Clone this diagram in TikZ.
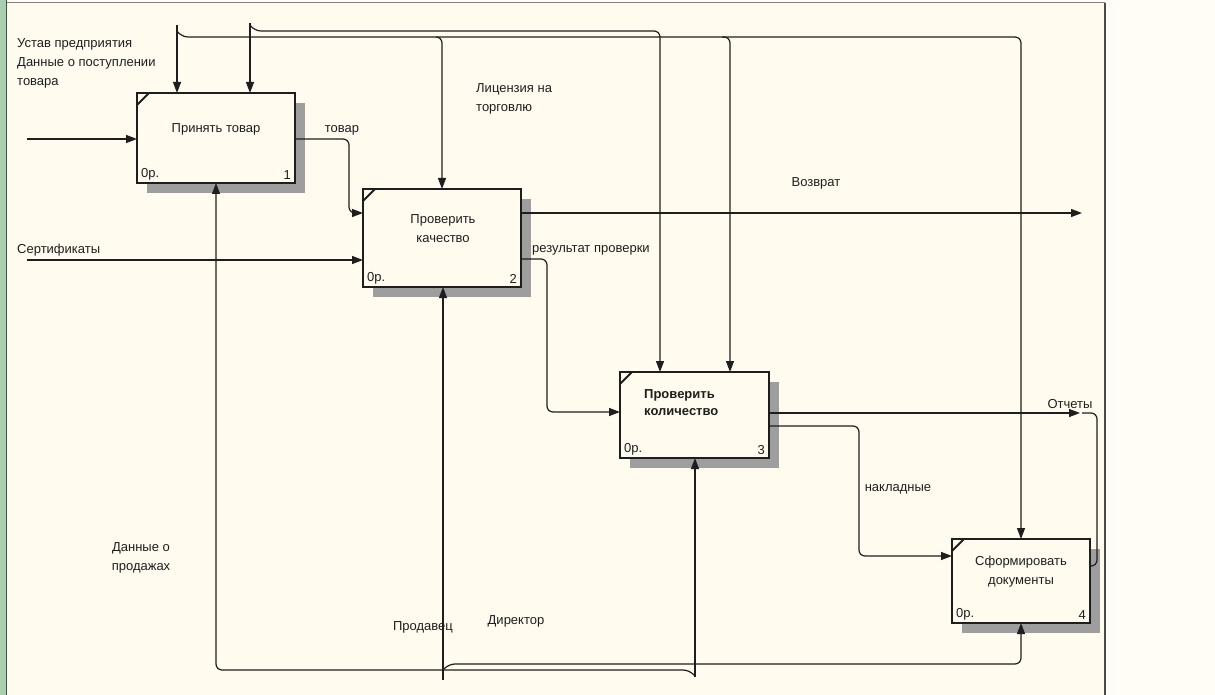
\documentclass[tikz,border=0pt]{standalone}
\usepackage{fontspec}
\setmainfont{Liberation Sans}
\usetikzlibrary{arrows.meta,calc,patterns,shadows}

\definecolor{paper}{HTML}{FFFBEF}
\definecolor{margin}{HTML}{FFFDF6}
\definecolor{strip}{HTML}{A9CFB1}
\definecolor{ink}{HTML}{1E1E1E}

\tikzset{
  func/.style={draw=ink, line width=2.6pt, fill=paper, inner sep=0pt,
    outer sep=0pt, anchor=north west,
    general shadow={shadow xshift=10pt, shadow yshift=-10pt,
      fill=black!38}},
  arr/.style={draw=ink, line width=1.2pt, rounded corners=6pt,
    -{Triangle[length=11pt,width=8pt]}},
  link/.style={draw=ink, line width=1.2pt, rounded corners=6pt},
  lbl/.style={font=\fontsize{13}{19}\selectfont, text=ink, inner sep=0pt},
}

\begin{document}
\begin{tikzpicture}[x=1pt, y=-1pt]
  \useasboundingbox (0,0) rectangle (1215,695);

  % --- sheet ---
  \fill[margin] (0,0) rectangle (1215,695);
  \fill[paper] (7,3) rectangle (1105,695);
  \fill[strip] (0,0) rectangle (6,695);
  \draw[strip!40!black, line width=1pt] (6.5,0) -- (6.5,695);
  \draw[gray, line width=1pt] (7,3) -- (1105,3);
  \draw[ink!80, line width=1.2pt] (1105,3) -- (1105,695);

  % --- functions ---
  \node[func, minimum width=158pt, minimum height=90pt] (b1) at (137,93) {};
  \node[func, minimum width=158pt, minimum height=98pt] (b2) at (363,189) {};
  \node[func, minimum width=149pt, minimum height=86pt] (b3) at (620,372) {};
  \node[func, minimum width=138pt, minimum height=84pt] (b4) at (952,539) {};

  \node[lbl] (t1) at (216,129) {Принять товар};
  \node[lbl, align=center] (t2) at (443,229) {Проверить\\качество};
  \node[lbl, align=left, anchor=west, font=\fontsize{13}{17}\selectfont\bfseries]
    (t3) at (644,403) {Проверить\\количество};
  \node[lbl, align=center] (t4) at (1021,572) {Сформировать\\документы};

  \foreach \b/\n in {b1/1,b2/2,b3/3,b4/4} {
    \draw[ink, line width=1.8pt] ($(\b.north west)+(0,12)$) -- ($(\b.north west)+(12,0)$);
    \node[lbl, anchor=south west] (cost\n) at ($(\b.south west)+(4,-3)$) {0р.};
    \node[lbl, anchor=south east] (num\n) at ($(\b.south east)+(-4,-3)$) {\n};
  }

  % --- inputs ---
  \coordinate (inB1) at (27,139);
  \coordinate (sert) at (27,260);
  \draw[arr] (inB1) -- (inB1 -| b1.west);
  \draw[arr] (sert) -- (sert -| b2.west);
  \draw[arr] (b1.east |- 0,139) -- (349,139) -- (349,213) -- (b2.west |- 0,213);
  \draw[arr] (b2.east |- 0,259) -- (547,259) -- (547,412) -- (b3.west |- 0,412);
  \draw[arr] (b3.east |- 0,426) -- (859,426) -- (859,556) -- (b4.west |- 0,556);

  % --- controls ---
  \coordinate (topA) at (177,25);
  \coordinate (topB) at (250,23);
  \coordinate (c3a) at ($(b3.north west)+(40,0)$);
  \coordinate (c3b) at ($(b3.north west)+(110,0)$);
  \draw[arr] (topA) -- (topA |- b1.north);
  \draw[arr] (topB) -- (topB |- b1.north);
  \draw[arr] (177,31) -- (182,37) -- (b4.north |- 0,37) -- (b4.north);
  \draw[arr] (250,25) -- (255,31) -- (c3a |- 0,31) -- (c3a);
  \draw[arr] (436,37) -- (b2.north |- 0,37) -- (b2.north);
  \draw[arr] (722,37) -- (c3b |- 0,37) -- (c3b);

  % --- outputs ---
  \coordinate (vozvrat) at (1082,213);
  \coordinate (otchety) at (1080,413);
  \draw[arr] (b2.east |- vozvrat) -- (vozvrat);
  \draw[arr] (b3.east |- otchety) -- (otchety);
  \draw[link] (b4.east |- 0,566) -- (1097,566) -- (1097,413) -- (1082,413);

  % --- mechanisms ---
  \coordinate (prodavec) at (443,680);
  \coordinate (direktor) at (695,677);
  \draw[arr] (prodavec) -- (prodavec |- b2.south);
  \draw[arr] (direktor) -- (direktor |- b3.south);
  \draw[arr] (443,670) -- (449,664) -- (b4.south |- 0,664) -- (b4.south);
  \draw[arr] (695,676) -- (689,670) -- (b1.south |- 0,670) -- (b1.south);

  % --- labels ---
  \node[lbl, align=left, anchor=north west] (ustav) at (17,38)
    {Устав предприятия\\Данные о поступлении\\товара};
  \node[lbl, align=left, anchor=north west] (licenz) at (476,83)
    {Лицензия на\\торговлю};
  \node[lbl] (tovar) at (342,130) {товар};
  \node[lbl, anchor=west] (sertlbl) at (17,250) {Сертификаты};
  \node[lbl] (vozvlbl) at (816,183) {Возврат};
  \node[lbl, anchor=west] (rezult) at (532,250) {результат проверки};
  \node[lbl] (otchlbl) at (1070,404) {Отчеты};
  \node[lbl] (naklad) at (898,489) {накладные};
  \node[lbl, align=center] (prodazh) at (141,558) {Данные о\\продажах};
  \node[lbl] (prodlbl) at (423,627) {Продавец};
  \node[lbl] (dirlbl) at (516,621) {Директор};
\end{tikzpicture}
\end{document}
